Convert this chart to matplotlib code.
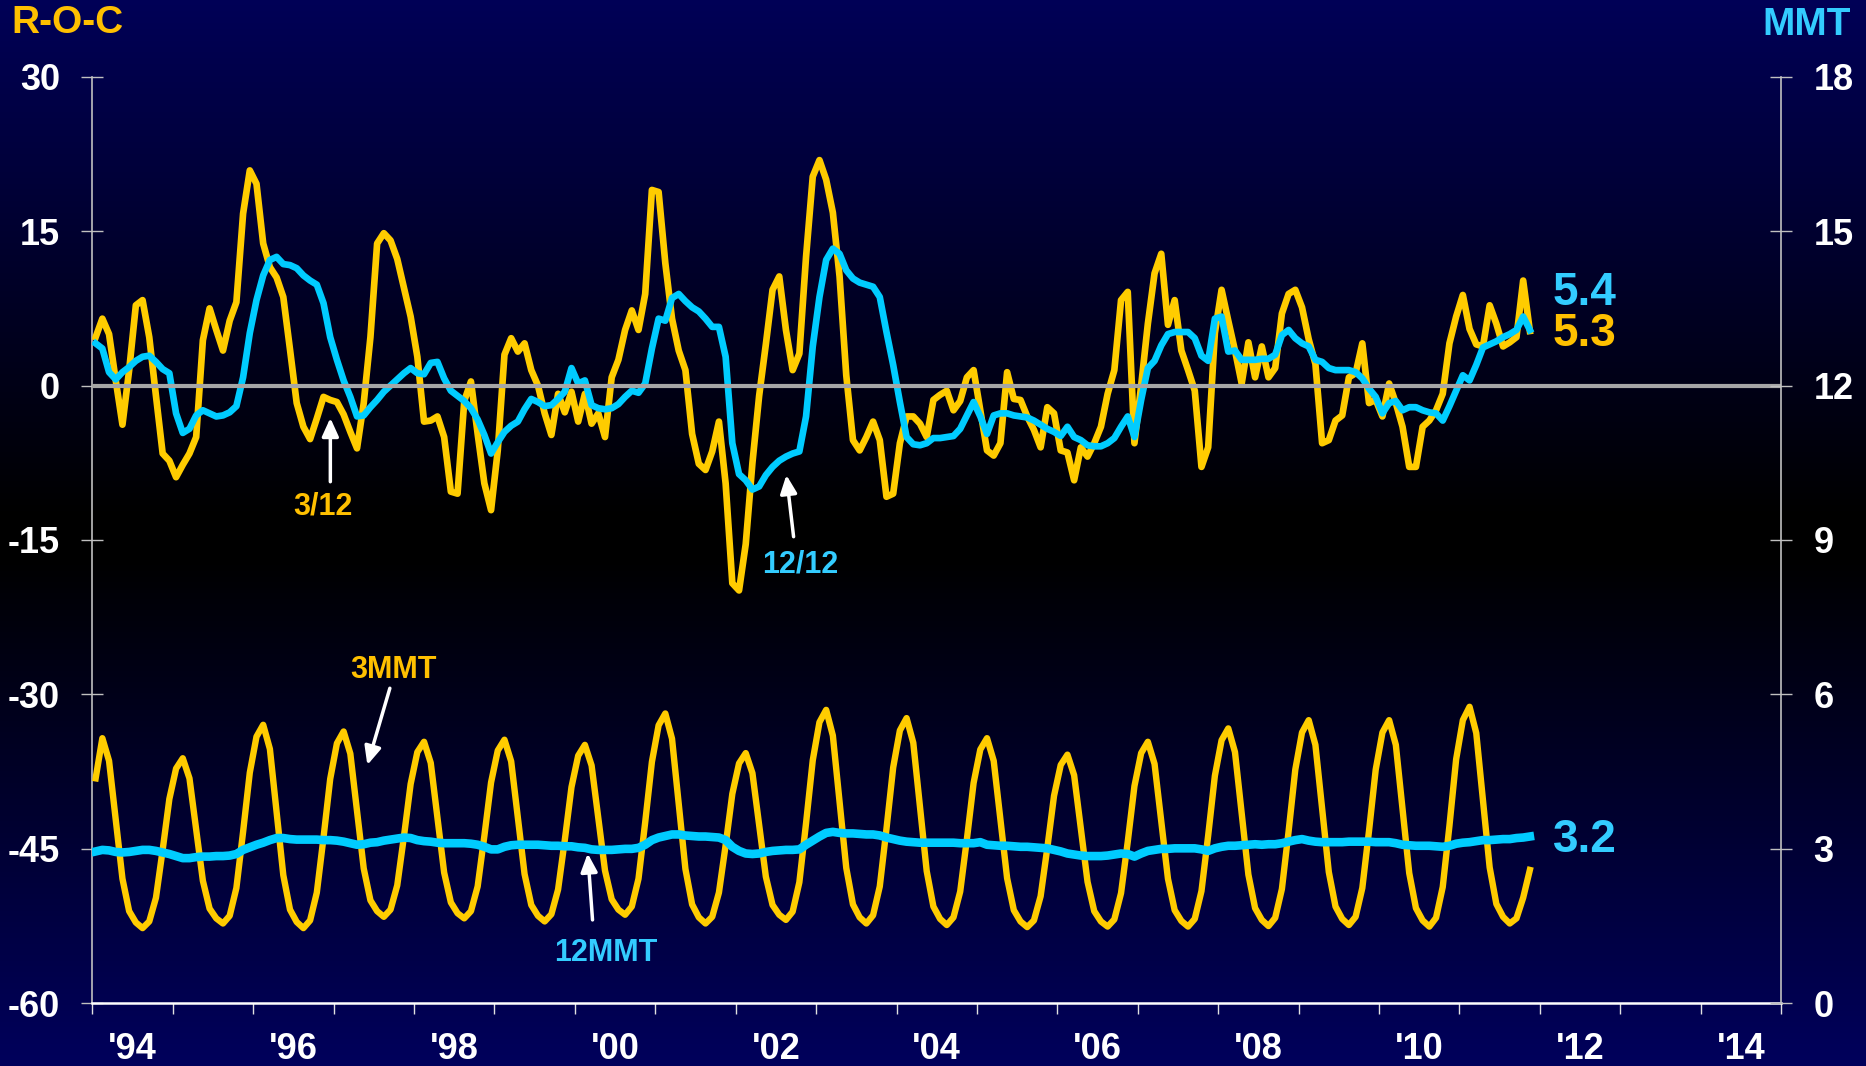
from __future__ import annotations

import matplotlib

matplotlib.use("Agg")
import matplotlib.pyplot as plt
import numpy as np

plt.rcParams["font.family"] = ["Liberation Sans", "DejaVu Sans"]
plt.rcParams["font.weight"] = "bold"

YELLOW = "#FFCC00"
CYAN = "#00CCFF"
LABEL_YELLOW = "#FFC000"
LABEL_CYAN = "#33CCFF"
AXIS_GREY = "#C0C0C0"

START_YEAR = 1994  # first monthly observation: Jan 1994

# rate of change (%), left axis
ROC_3_12 = [
    4.7, 6.5, 5.0, 0.5, -3.8, 1.5, 7.8, 8.3, 4.7, -1.0, -6.6, -7.3,
    -8.9, -7.7, -6.6, -5.0, 4.4, 7.5, 5.4, 3.4, 6.3, 8.1, 16.7, 20.9,
    19.6, 13.8, 11.5, 10.5, 8.6, 3.5, -1.7, -4.0, -5.2, -3.2, -1.1, -1.4,
    -1.6, -2.8, -4.5, -6.1, -1.7, 4.7, 13.8, 14.8, 14.1, 12.3, 9.5, 6.7,
    2.8, -3.5, -3.4, -3.0, -5.0, -10.3, -10.5, -1.5, 0.4, -4.7, -9.5, -12.1,
    -6.3, 3.0, 4.6, 3.3, 4.1, 1.5, 0.0, -2.7, -4.8, -0.8, -2.6, -0.6,
    -3.5, -0.8, -3.7, -2.7, -5.0, 0.8, 2.5, 5.4, 7.3, 5.4, 8.9, 19.0,
    18.8, 11.9, 6.5, 3.4, 1.5, -4.7, -7.6, -8.2, -6.4, -3.5, -9.5, -19.2,
    -19.9, -15.4, -7.5, -1.0, 4.0, 9.3, 10.6, 5.4, 1.5, 3.1, 12.5, 20.3,
    21.9, 20.0, 16.8, 10.6, 1.0, -5.3, -6.3, -5.0, -3.5, -5.3, -10.8, -10.5,
    -5.6, -3.0, -3.0, -3.7, -5.0, -1.4, -0.9, -0.5, -2.4, -1.5, 0.8, 1.5,
    -2.4, -6.3, -6.8, -5.6, 1.3, -1.3, -1.4, -3.0, -4.3, -6.0, -2.1, -2.7,
    -6.3, -6.5, -9.2, -6.0, -6.9, -5.6, -4.0, -0.8, 1.5, 8.3, 9.1, -5.6,
    0.0, 6.0, 10.9, 12.8, 5.9, 8.3, 3.4, 1.5, -0.5, -7.9, -6.0, 5.1,
    9.3, 6.3, 3.4, 0.2, 4.2, 0.8, 3.8, 0.8, 1.7, 7.0, 8.9, 9.3,
    7.6, 4.5, 2.1, -5.6, -5.3, -3.4, -2.9, 0.8, 1.2, 4.1, -1.7, -1.4,
    -3.0, 0.2, -1.7, -4.0, -7.9, -7.9, -4.0, -3.4, -2.4, -0.8, 4.1, 6.7,
    8.8, 5.5, 4.0, 3.8, 7.8, 6.0, 3.8, 4.2, 4.7, 10.2, 5.3,
]
ROC_12_12 = [
    4.1, 3.6, 1.3, 0.6, 1.3, 1.8, 2.4, 2.8, 2.9, 2.3, 1.6, 1.2,
    -2.7, -4.6, -4.2, -2.9, -2.4, -2.7, -3.0, -2.9, -2.6, -2.0, 0.8, 5.1,
    8.3, 10.7, 12.2, 12.5, 11.8, 11.7, 11.4, 10.7, 10.2, 9.8, 8.0, 4.7,
    2.5, 0.5, -1.1, -3.0, -2.9, -2.1, -1.4, -0.6, 0.0, 0.6, 1.2, 1.7,
    1.2, 1.1, 2.2, 2.3, 0.7, -0.5, -1.0, -1.5, -2.2, -3.3, -4.8, -6.6,
    -5.5, -4.5, -3.9, -3.5, -2.3, -1.3, -1.6, -2.0, -1.9, -1.3, -0.6, 1.7,
    0.2, 0.5, -1.9, -2.2, -2.3, -2.2, -1.8, -1.1, -0.5, -0.7, 0.2, 3.6,
    6.5, 6.3, 8.5, 8.9, 8.2, 7.6, 7.2, 6.5, 5.7, 5.7, 2.8, -5.6,
    -8.6, -9.2, -10.1, -9.8, -8.7, -7.9, -7.3, -6.9, -6.6, -6.4, -3.0, 3.8,
    8.6, 12.2, 13.3, 12.8, 11.2, 10.4, 10.0, 9.8, 9.6, 8.6, 5.2, 2.0,
    -1.6, -5.0, -5.7, -5.8, -5.6, -5.1, -5.1, -5.0, -4.9, -4.2, -2.9, -1.6,
    -3.0, -4.7, -2.9, -2.7, -2.7, -2.9, -3.0, -3.1, -3.4, -3.8, -4.2, -4.5,
    -4.9, -4.0, -5.0, -5.3, -5.8, -5.9, -5.9, -5.6, -5.1, -4.0, -3.0, -5.0,
    -1.4, 1.7, 2.4, 3.9, 5.0, 5.2, 5.2, 5.2, 4.6, 2.9, 2.4, 6.5,
    6.7, 3.3, 3.4, 2.5, 2.5, 2.5, 2.6, 2.6, 3.0, 4.9, 5.4, 4.6,
    4.1, 3.8, 2.5, 2.3, 1.7, 1.5, 1.5, 1.5, 1.3, 0.7, -0.3, -1.1,
    -2.7, -1.7, -1.5, -2.4, -2.1, -2.1, -2.4, -2.6, -2.7, -3.4, -2.0, -0.5,
    1.0, 0.5, 2.0, 3.7, 4.0, 4.3, 4.7, 5.0, 5.4, 6.7, 5.4,
]

# moving totals, right axis
MMT_3 = [
    4.37, 5.15, 4.71, 3.56, 2.42, 1.79, 1.57, 1.46, 1.59, 2.05, 2.98, 3.97,
    4.56, 4.76, 4.37, 3.38, 2.38, 1.84, 1.65, 1.55, 1.70, 2.24, 3.33, 4.48,
    5.18, 5.41, 4.94, 3.71, 2.49, 1.82, 1.58, 1.46, 1.61, 2.15, 3.22, 4.36,
    5.05, 5.28, 4.85, 3.73, 2.62, 2.00, 1.79, 1.68, 1.82, 2.29, 3.24, 4.26,
    4.88, 5.08, 4.67, 3.61, 2.54, 1.96, 1.75, 1.65, 1.79, 2.27, 3.25, 4.29,
    4.91, 5.12, 4.70, 3.60, 2.51, 1.91, 1.70, 1.59, 1.73, 2.21, 3.17, 4.20,
    4.81, 5.02, 4.62, 3.60, 2.58, 2.02, 1.82, 1.72, 1.88, 2.42, 3.52, 4.69,
    5.40, 5.63, 5.14, 3.88, 2.61, 1.92, 1.67, 1.55, 1.68, 2.15, 3.07, 4.07,
    4.66, 4.86, 4.47, 3.47, 2.46, 1.91, 1.72, 1.62, 1.78, 2.35, 3.50, 4.72,
    5.46, 5.70, 5.20, 3.92, 2.63, 1.92, 1.67, 1.55, 1.71, 2.27, 3.39, 4.58,
    5.30, 5.54, 5.06, 3.81, 2.57, 1.88, 1.64, 1.52, 1.67, 2.17, 3.19, 4.28,
    4.93, 5.15, 4.71, 3.57, 2.43, 1.81, 1.59, 1.48, 1.61, 2.08, 3.02, 4.03,
    4.63, 4.83, 4.43, 3.39, 2.36, 1.79, 1.59, 1.49, 1.63, 2.14, 3.14, 4.22,
    4.86, 5.08, 4.65, 3.54, 2.42, 1.81, 1.60, 1.49, 1.64, 2.18, 3.26, 4.42,
    5.11, 5.34, 4.88, 3.69, 2.50, 1.85, 1.62, 1.50, 1.66, 2.22, 3.34, 4.54,
    5.26, 5.50, 5.02, 3.79, 2.55, 1.88, 1.64, 1.52, 1.68, 2.24, 3.35, 4.54,
    5.26, 5.50, 5.02, 3.78, 2.53, 1.85, 1.61, 1.49, 1.66, 2.26, 3.45, 4.74,
    5.50, 5.76, 5.25, 3.95, 2.64, 1.93, 1.68, 1.55, 1.65, 2.05, 2.59,
]
MMT_12 = [
    2.95, 2.98, 2.97, 2.94, 2.93, 2.94, 2.96, 2.98, 2.98, 2.96, 2.93, 2.90,
    2.86, 2.82, 2.82, 2.84, 2.85, 2.85, 2.86, 2.86, 2.87, 2.90, 2.98, 3.03,
    3.08, 3.12, 3.17, 3.21, 3.21, 3.19, 3.18, 3.18, 3.18, 3.18, 3.17, 3.17,
    3.16, 3.14, 3.11, 3.08, 3.09, 3.12, 3.13, 3.16, 3.18, 3.20, 3.22, 3.21,
    3.17, 3.15, 3.14, 3.12, 3.11, 3.11, 3.11, 3.11, 3.10, 3.08, 3.04, 2.99,
    2.99, 3.04, 3.07, 3.08, 3.08, 3.08, 3.08, 3.07, 3.06, 3.06, 3.05, 3.05,
    3.03, 3.02, 2.99, 2.98, 2.98, 2.98, 2.99, 3.00, 3.00, 3.02, 3.08, 3.17,
    3.22, 3.25, 3.28, 3.28, 3.26, 3.25, 3.24, 3.24, 3.23, 3.22, 3.17, 3.04,
    2.96, 2.91, 2.90, 2.91, 2.94, 2.96, 2.97, 2.98, 2.98, 2.99, 3.08, 3.16,
    3.24, 3.31, 3.33, 3.31, 3.30, 3.30, 3.29, 3.28, 3.28, 3.26, 3.22, 3.19,
    3.16, 3.14, 3.13, 3.12, 3.12, 3.12, 3.12, 3.12, 3.12, 3.11, 3.11, 3.11,
    3.13, 3.08, 3.07, 3.06, 3.06, 3.05, 3.04, 3.04, 3.03, 3.02, 3.01, 2.98,
    2.95, 2.91, 2.89, 2.87, 2.86, 2.86, 2.86, 2.87, 2.89, 2.91, 2.90, 2.85,
    2.91, 2.96, 2.98, 3.00, 3.00, 3.01, 3.01, 3.01, 3.01, 2.99, 2.96, 3.01,
    3.04, 3.06, 3.06, 3.07, 3.08, 3.09, 3.08, 3.09, 3.09, 3.11, 3.14, 3.17,
    3.19, 3.16, 3.14, 3.13, 3.13, 3.13, 3.13, 3.14, 3.14, 3.14, 3.14, 3.13,
    3.13, 3.13, 3.11, 3.08, 3.07, 3.06, 3.06, 3.06, 3.05, 3.04, 3.06, 3.10,
    3.12, 3.13, 3.15, 3.17, 3.17, 3.18, 3.19, 3.19, 3.21, 3.22, 3.24,
]

ROC_TICKS = [-60, -45, -30, -15, 0, 15, 30]
MMT_TICKS = [0, 3, 6, 9, 12, 15, 18]
YEAR_TICKS = list(range(1994, 2016))
LABEL_YEARS = [1994, 1996, 1998, 2000, 2002, 2004, 2006, 2008, 2010, 2012, 2014]
YEAR_LABELS = ["'94", "'96", "'98", "'00", "'02", "'04", "'06", "'08", "'10", "'12", "'14"]


def add_background(fig: plt.Figure) -> None:
    # navy -> black -> navy, top to bottom
    bg = fig.add_axes([0, 0, 1, 1], zorder=-10)
    depth = np.linspace(0, 1, 800)
    blue = np.interp(depth, [0.0, 0.485, 0.52, 1.0], [0.34, 0.0, 0.0, 0.36])
    grad = np.zeros((depth.size, 1, 3))
    grad[:, 0, 2] = blue
    bg.imshow(grad, aspect="auto", extent=(0, 1, 0, 1), interpolation="bilinear")
    bg.set_axis_off()


def arrow(ax, tail, tip) -> None:
    ax.annotate(
        "",
        xy=tip,
        xytext=tail,
        arrowprops=dict(
            arrowstyle="-|>,head_length=0.55,head_width=0.25",
            color="white",
            lw=2.5,
            mutation_scale=20,
            shrinkA=0,
            shrinkB=0,
        ),
    )


def main() -> None:
    fig = plt.figure(figsize=(18.66, 10.66), dpi=100)
    add_background(fig)

    ax = fig.add_axes([0.04946, 0.05882, 0.90509, 0.86923])
    ax.set_facecolor("none")
    ax2 = ax.twinx()

    t = START_YEAR + (np.arange(len(ROC_3_12)) + 0.5) / 12.0

    ax.plot(t, ROC_3_12, color=YELLOW, lw=4.8, solid_joinstyle="round", zorder=3)
    ax.plot(t, ROC_12_12, color=CYAN, lw=4.8, solid_joinstyle="round", zorder=4)
    ax.axhline(0, color="#A6A6A6", lw=3, zorder=5)

    ax2.plot(t, MMT_3, color=YELLOW, lw=4.6, solid_joinstyle="round", zorder=3)
    ax2.plot(t, MMT_12, color=CYAN, lw=6.2, solid_joinstyle="round", zorder=4)

    ax.set_xlim(1994, 2015)
    ax.set_ylim(-60, 30)
    ax2.set_ylim(0, 18)

    for side in ["top", "right"]:
        ax.spines[side].set_visible(False)
    ax.spines["left"].set_color(AXIS_GREY)
    ax.spines["left"].set_linewidth(1.2)
    ax.spines["bottom"].set_color("white")
    ax.spines["bottom"].set_linewidth(1.8)
    for side in ["top", "left", "bottom"]:
        ax2.spines[side].set_visible(False)
    ax2.spines["right"].set_color(AXIS_GREY)
    ax2.spines["right"].set_linewidth(1.2)

    ax.set_yticks(ROC_TICKS, [str(v) for v in ROC_TICKS])
    ax2.set_yticks(MMT_TICKS, [str(v) for v in MMT_TICKS])
    for a in (ax, ax2):
        a.tick_params(
            axis="y", direction="inout", length=15.8, width=1.0, color=AXIS_GREY,
            labelcolor="white", labelsize=26, pad=15.4,
        )

    ax.set_xticks(YEAR_TICKS, [""] * len(YEAR_TICKS))
    ax.set_xticks([y + 0.5 for y in LABEL_YEARS], YEAR_LABELS, minor=True)
    ax.tick_params(axis="x", which="major", direction="out", length=8, width=1.0, color="#E0E0E0")
    ax.tick_params(axis="x", which="minor", length=0, labelsize=26, labelcolor="white", pad=21)

    # series annotations
    ax.text(1996.87, -11.7, "3/12", color=LABEL_YELLOW, fontsize=22, ha="center", va="center")
    arrow(ax, (1996.96, -9.34), (1996.96, -3.15))
    ax.text(2002.80, -17.36, "12/12", color=LABEL_CYAN, fontsize=22, ha="center", va="center")
    arrow(ax, (2002.72, -14.68), (2002.63, -8.69))
    ax2.text(1997.74, 6.48, "3MMT", color=LABEL_YELLOW, fontsize=22, ha="center", va="center")
    arrow(ax2, (1997.70, 6.12), (1997.42, 4.63))
    ax2.text(2000.38, 0.98, "12MMT", color=LABEL_CYAN, fontsize=22, ha="center", va="center")
    arrow(ax2, (2000.22, 1.62), (2000.16, 2.91))

    # latest values
    ax.text(2012.16, 9.0, "5.4", color=LABEL_CYAN, fontsize=33, ha="left", va="center")
    ax.text(2012.16, 5.05, "5.3", color=LABEL_YELLOW, fontsize=33, ha="left", va="center")
    ax2.text(2012.16, 3.18, "3.2", color=LABEL_CYAN, fontsize=33, ha="left", va="center")

    fig.text(0.00627, 0.9780, "R-O-C", color=LABEL_YELLOW, fontsize=28, ha="left", va="center")
    fig.text(0.99196, 0.9768, "MMT", color=LABEL_CYAN, fontsize=28, ha="right", va="center")

    fig.savefig("out.png", dpi=100)
    plt.close(fig)


if __name__ == "__main__":
    main()
